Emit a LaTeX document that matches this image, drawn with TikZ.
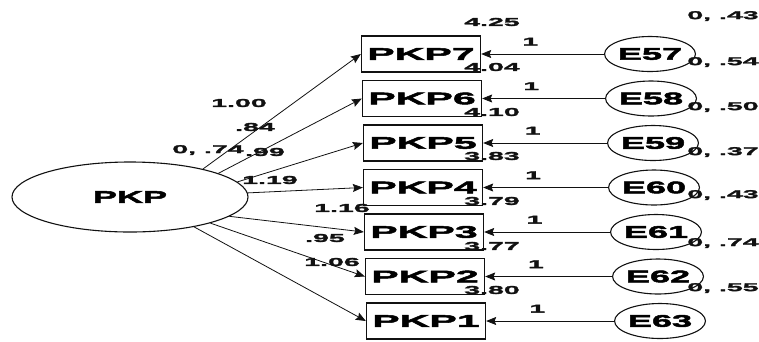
\documentclass[tikz,border=0pt]{standalone}
\usepackage{fontspec}
\usetikzlibrary{arrows.meta, positioning, shapes.geometric}
\newfontfamily\amosfont[FakeStretch=2.45, FakeBold=3]{Liberation Sans}
\newfontfamily\latfont[FakeStretch=2.15, FakeBold=3]{Liberation Sans}
\newfontfamily\numfont[FakeStretch=2.5, FakeBold=2.5]{Liberation Sans}
\definecolor{cink}{HTML}{111111}
\tikzset{
  every picture/.style={line width=0.8pt},
  box/.style={draw=cink, rectangle, line width=1.3pt, minimum width=119pt, minimum height=36pt, inner sep=0pt, font=\amosfont\bfseries\fontsize{16.8}{18}\selectfont},
  arrow/.style={-{Stealth[length=10pt, width=8pt, inset=1.5pt]}, draw=cink, line width=0.8pt},
  lat/.style={ellipse, draw=cink, line width=1.1pt, inner sep=0pt, font=\latfont\bfseries\fontsize{16.8}{18}\selectfont},
  note/.style={font=\numfont\bfseries\fontsize{11.4}{12}\selectfont, text=cink, inner sep=0pt},
}
\begin{document}
\begin{tikzpicture}[x=1pt, y=-1pt,
                    err/.style={lat, minimum width=82pt, minimum height=35pt}]
  \useasboundingbox (0,0) rectangle (759,341);
  \node[lat, minimum width=236pt, minimum height=70pt] (pkp) at (130,197) {PKP};
  % observed items
  \node[box] (p7) at (421,54) {PKP7};
  \node[box] (p6) at (422,98.5) {PKP6};
  \node[box] (p5) at (423,143) {PKP5};
  \node[box] (p4) at (423,187.5) {PKP4};
  \node[box] (p3) at (424,232) {PKP3};
  \node[box] (p2) at (425,276.5) {PKP2};
  \node[box] (p1) at (426,321) {PKP1};
  % error terms
  \node[err] (e57) at (650,54) {E57};
  \node[err] (e58) at (651,98.5) {E58};
  \node[err] (e59) at (653,143) {E59};
  \node[err] (e60) at (654,187.5) {E60};
  \node[err] (e61) at (656,232) {E61};
  \node[err] (e62) at (658,276.5) {E62};
  \node[err] (e63) at (660,321) {E63};
  \foreach \b/\a in {p7/21, p6/15, p5/8, p4/2, p3/349, p2/342, p1/335}
    \draw[arrow] (pkp.\a) -- (\b.west);
  \foreach \b/\e in {p7/e57, p6/e58, p5/e59, p4/e60, p3/e61, p2/e62, p1/e63}
    \draw[arrow] (\e.west) -- node[note, above=8pt, pos=0.6] {1} (\b.east);
  % loadings
  \node[note] at (239,103) {1.00};
  \node[note] at (255,127) {.84};
  \node[note] at (208,150) {0, .74};
  \node[note] at (265,152) {.99};
  \node[note] at (270,180) {1.19};
  \node[note] at (342,208) {1.16};
  \node[note] at (325,238) {.95};
  \node[note] at (332,262) {1.06};
  % intercepts
  \foreach \v/\y in {4.25/22, 4.04/67, 4.10/112, 3.83/156, 3.79/201, 3.77/246, 3.80/290}
    \node[note] at (492,\y) {\v};
  % error variances
  \foreach \v/\y in {.43/16, .54/62, .50/107, .37/152, .43/195, .74/243, .55/288}
    \node[note] at (723,\y) {0, \v};
\end{tikzpicture}
\end{document}
